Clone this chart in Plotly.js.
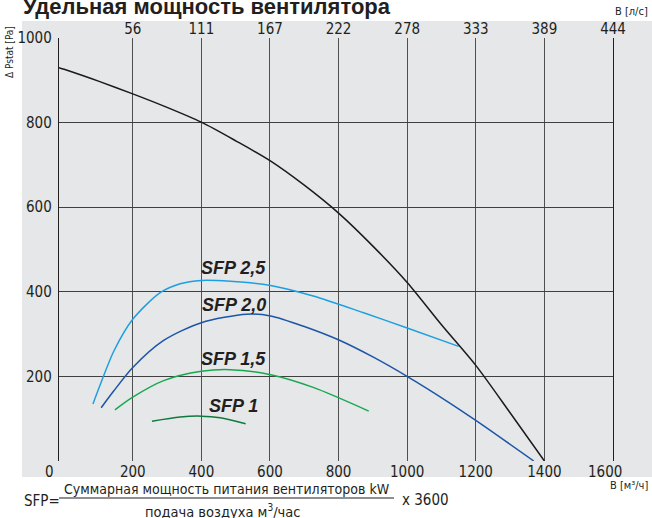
<!DOCTYPE html>
<html>
<head>
<meta charset="utf-8">
<script src="https://cdn.plot.ly/plotly-3.0.1.min.js"></script>
<style>html,body{margin:0;padding:0;background:#fff;}#chart{width:652px;height:518px;}</style>
</head>
<body>
<div id="chart"></div>
<script>
// Fan curve (Pa vs m3/h)
var fanX = [-15, 0, 100, 200, 300, 400, 500, 600, 700, 800, 900, 1000, 1100, 1200, 1300, 1400];
var fanY = [930, 926, 898, 868, 836, 801, 757, 710, 652, 586, 508, 422, 322, 226, 114, 0];

var sfp25X = [84, 106, 145, 200, 280, 338, 400, 484, 602, 726, 871, 1002, 1150];
var sfp25Y = [135, 182, 260, 335, 398, 419, 427, 425, 415, 390, 351, 314, 271];

var sfp20X = [108, 145, 200, 290, 400, 532, 602, 700, 801, 900, 1002, 1113, 1200, 1369];
var sfp20Y = [126, 166, 221, 285, 327, 347, 343, 318, 286, 246, 199, 143, 96, 0];

var sfp15X = [148, 200, 290, 400, 484, 602, 726, 888];
var sfp15Y = [121, 151, 190, 212, 216, 204, 174, 118];

var sfp1X = [256, 338, 400, 455, 529];
var sfp1Y = [94, 104, 106, 102, 88];

var sfpLabels = ["SFP 2,5", "SFP 2,0", "SFP 1,5", "SFP 1"];
var sfpLabelX = [495, 495, 495, 495];
var sfpLabelY = [456, 369, 241, 129];

var bottomTicks = [200, 400, 600, 800, 1000, 1200, 1400];
var topTicks = [200, 400, 600, 800, 1000, 1200, 1400, 1600];
var topTickText = ["56", "111", "167", "222", "278", "333", "389", "444"];
var yTicks = [200, 400, 600, 800, 1000];

(function () {
  var NARROW = "Liberation Sans Narrow, Arial Narrow, DejaVu Sans Condensed, sans-serif";
  var TXT = "#231f20";
  var W = 652, H = 518;
  function fx(x) { return x / W; }
  function fy(y) { return 1 - y / H; }

  function mkTrace(x, y, color, w, xa) {
    return {x: x, y: y, type: "scatter", mode: "lines", xaxis: xa, yaxis: "y2",
      line: {color: color, width: w, shape: "spline", smoothing: 0.8}};
  }

  var traces = [
    {x: [], y: [], type: "scatter", mode: "lines", xaxis: "x", yaxis: "y"},
    mkTrace(sfp25X, sfp25Y, "#1e9fe0", 1.5, "x2"),
    mkTrace(sfp20X, sfp20Y, "#1c55a8", 1.5, "x2"),
    mkTrace(sfp15X, sfp15Y, "#17a84f", 1.5, "x2"),
    mkTrace(sfp1X, sfp1Y, "#0f7a3d", 1.5, "x2"),
    mkTrace(fanX, fanY, "#1a1a1a", 1.5, "x3")
  ];

  var ann = [];
  for (var i = 0; i < sfpLabels.length; i++) {
    ann.push({x: sfpLabelX[i], y: sfpLabelY[i], xref: "x2", yref: "y2", text: "<b><i>" + sfpLabels[i] + "</i></b>",
      showarrow: false, font: {family: "Liberation Sans, Arial, sans-serif", size: 18, color: TXT}, xanchor: "center", yanchor: "middle"});
  }
  function note(text, x, y, size, xanchor, fam, angle) {
    var a = {x: fx(x), y: fy(y), xref: "paper", yref: "paper", text: text, showarrow: false,
      font: {family: fam || NARROW, size: size, color: TXT}, xanchor: xanchor, yanchor: "middle"};
    if (angle) a.textangle = angle;
    return a;
  }
  ann.push(note("<b>Удельная мощность вентилятора</b>", 21, 6.5, 22, "left", "Liberation Sans, Arial, sans-serif"));
  ann.push(note("0", 49, 471.5, 15, "center"));
  ann.push(note("1600", 605, 471.5, 15, "center"));
  ann.push(note("В [л/с]", 650, 12, 11, "right"));
  ann.push(note("В [м³/ч]", 650, 485, 11, "right"));
  ann.push(note("Δ Pstat [Pa]", 9, 52, 10, "center", null, -90));
  ann.push(note("SFP=", 22, 501, 15, "left"));
  ann.push(note("Суммарная мощность питания вентиляторов kW", 227, 488.5, 14, "center"));
  ann.push(note("x 3600", 400, 499.5, 15, "left"));
  ann.push(note("подача воздуха м<sup>3</sup>/час", 143, 511, 14.5, "left"));

  var hidden = {showgrid: false, zeroline: false, showline: false, showticklabels: false, ticks: "", range: [0, 1]};
  var lay = {
    width: W, height: H,
    margin: {l: 0, r: 0, t: 0, b: 0, pad: 0},
    paper_bgcolor: "#ffffff",
    plot_bgcolor: "#e6e7e8",
    showlegend: false,
    xaxis: Object.assign({domain: [fx(22), 1], anchor: "y"}, hidden),
    yaxis: Object.assign({domain: [fy(477), fy(21)], anchor: "x"}, hidden),
    xaxis2: {domain: [fx(59), fx(613)], anchor: "y2", range: [-15, 1600], tickmode: "array", tickvals: bottomTicks, ticktext: bottomTicks.map(String),
      showgrid: true, gridcolor: "#505050", gridwidth: 1, zeroline: false, showline: false,
      ticks: "", tickfont: {family: NARROW, size: 15, color: TXT}},
    xaxis3: {range: [-15, 1600], overlaying: "x2", side: "top", anchor: "y2", tickmode: "array", tickvals: topTicks, ticktext: topTickText,
      showgrid: false, zeroline: false, showline: false,
      ticks: "", tickfont: {family: NARROW, size: 15, color: TXT}},
    yaxis2: {domain: [fy(461), fy(38)], anchor: "x2", range: [0, 1000], tickmode: "array", tickvals: yTicks, ticktext: yTicks.map(String),
      showgrid: true, gridcolor: "#404040", gridwidth: 1, zeroline: false,
      showline: true, mirror: true, linecolor: "#231f20", linewidth: 1.2,
      ticks: "outside", ticklen: 3, tickcolor: "rgba(0,0,0,0)",
      tickfont: {family: NARROW, size: 15, color: TXT}},
    shapes: [
      {type: "rect", xref: "paper", yref: "paper", x0: fx(22), x1: 1, y0: fy(477), y1: fy(21),
        fillcolor: "#e6e7e8", line: {width: 0}, layer: "below"},
      {type: "line", xref: "paper", yref: "paper", x0: fx(59), x1: fx(394), y0: fy(498), y1: fy(498),
        line: {color: TXT, width: 1}}
    ],
    annotations: ann
  };

  Plotly.newPlot("chart", traces, lay, {staticPlot: true});
})();
</script>
</body>
</html>
